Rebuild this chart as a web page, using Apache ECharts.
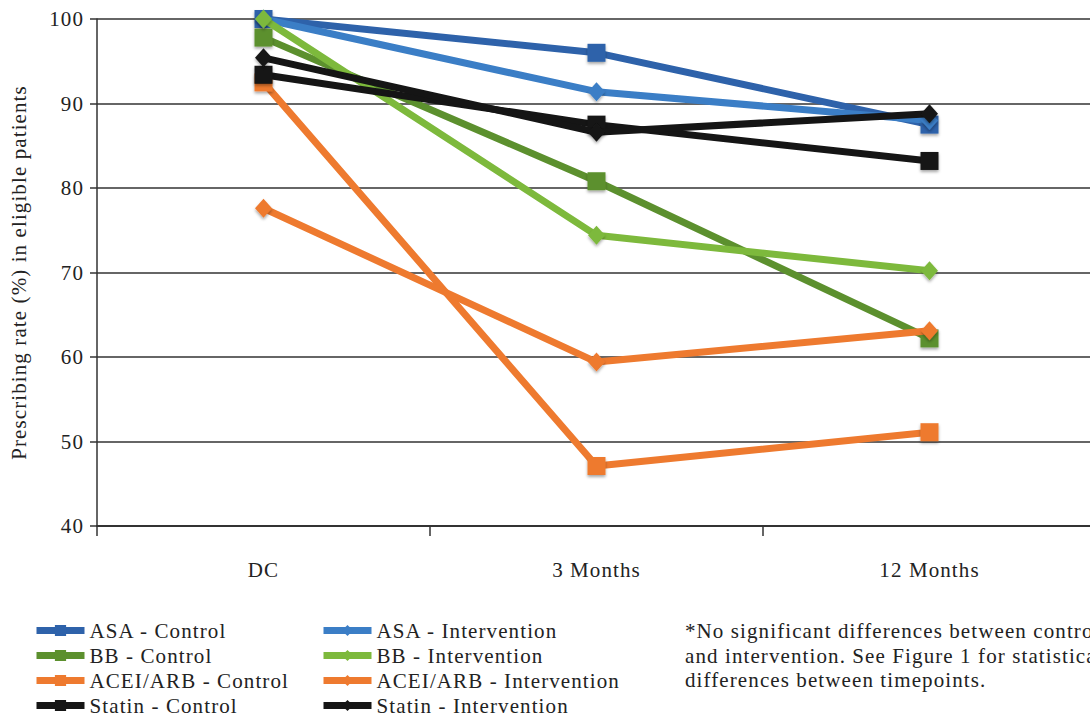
<!DOCTYPE html>
<html>
<head>
<meta charset="utf-8">
<script src="https://cdn.jsdelivr.net/npm/echarts@6/dist/echarts.min.js"></script>
<style>
html,body{margin:0;padding:0;background:#fff;}
#c{width:1090px;height:719px;}
#c text{letter-spacing:1.1px !important;}
</style>
</head>
<body>
<div id="c"></div>
<script>
const categories = ['DC', '3 Months', '12 Months'];
const yTicks = [40, 50, 60, 70, 80, 90, 100];

const asaControl = [100, 96.0, 87.5];
const asaIntervention = [100, 91.4, 88.0];
const bbControl = [97.8, 80.8, 62.2];
const bbIntervention = [100, 74.4, 70.2];
const aceiControl = [92.5, 47.1, 51.1];
const aceiIntervention = [77.6, 59.4, 63.1];
const statinControl = [93.4, 87.5, 83.2];
const statinIntervention = [95.4, 86.6, 88.8];

const seriesNames = ['ASA - Control', 'ASA - Intervention', 'BB - Control', 'BB - Intervention',
  'ACEI/ARB - Control', 'ACEI/ARB - Intervention', 'Statin - Control', 'Statin - Intervention'];
const seriesData = [asaControl, asaIntervention, bbControl, bbIntervention,
  aceiControl, aceiIntervention, statinControl, statinIntervention];
const seriesColors = ['#2E62AA', '#3B7EC6', '#5C902E', '#7DB93C', '#EE7A2F', '#EE7A2F', '#151515', '#151515'];
const footnote = '*No significant differences between control\nand intervention. See Figure 1 for statistical\ndifferences between timepoints.';

const font = 'Liberation Serif';
const chart = echarts.init(document.getElementById('c'), null, { renderer: 'svg' });

const series = seriesNames.map((name, i) => {
  const isControl = i % 2 === 0;
  return {
    name: name,
    type: 'line',
    data: seriesData[i],
    symbol: isControl ? 'rect' : 'diamond',
    symbolSize: isControl ? 18 : [17, 19],
    lineStyle: { width: 7, color: seriesColors[i] },
    itemStyle: { color: seriesColors[i], shadowBlur: 3, shadowColor: 'rgba(0,0,0,0.35)', shadowOffsetY: 2 },
    emphasis: { disabled: true },
    animation: false,
    z: 2 + i
  };
});

const legendText = { fontFamily: font, fontSize: 21, color: '#222', lineHeight: 21 };

chart.setOption({
  backgroundColor: '#ffffff',
  animation: false,
  grid: { left: 97, width: 999, top: 19, bottom: 193, containLabel: false, outerBoundsMode: 'none' },
  xAxis: {
    type: 'category',
    data: categories,
    boundaryGap: true,
    axisLine: { show: true, lineStyle: { color: '#333', width: 2 } },
    axisTick: { show: true, alignWithLabel: false, length: 10, lineStyle: { color: '#333', width: 1.5 } },
    axisLabel: { fontFamily: font, fontSize: 21, color: '#222', margin: 33 },
    splitLine: { show: false }
  },
  yAxis: {
    type: 'value',
    min: 40, max: 100, interval: 10,
    name: 'Prescribing rate (%) in eligible patients',
    nameLocation: 'middle',
    nameGap: 68,
    nameTextStyle: { fontFamily: font, fontSize: 21, color: '#222' },
    axisLine: { show: true, lineStyle: { color: '#333', width: 1.5 } },
    axisTick: { show: true, length: 7, lineStyle: { color: '#333', width: 1.5 } },
    axisLabel: { fontFamily: font, fontSize: 21, color: '#222', margin: 13,
      formatter: v => (yTicks.indexOf(v) >= 0 ? String(v) : '') },
    splitLine: { show: true, lineStyle: { color: '#333', width: 1.5 } }
  },
  legend: [
    {
      data: seriesNames.filter((n, i) => i % 2 === 0),
      orient: 'vertical', left: 33, top: 620, height: 130, padding: 0,
      itemWidth: 48, itemHeight: 14, itemGap: 4,
      lineStyle: { width: 7 },
      textStyle: legendText,
      selectedMode: false
    },
    {
      data: seriesNames.filter((n, i) => i % 2 === 1),
      orient: 'vertical', left: 320, top: 620, height: 130, padding: 0,
      itemWidth: 48, itemHeight: 14, itemGap: 4,
      lineStyle: { width: 7 },
      textStyle: legendText,
      selectedMode: false
    }
  ],
  graphic: [{
    type: 'text',
    left: 685, top: 619,
    style: { text: footnote, fontFamily: font, fontSize: 21, lineHeight: 24.5, fill: '#222' }
  }],
  series: series
});
</script>
</body>
</html>
